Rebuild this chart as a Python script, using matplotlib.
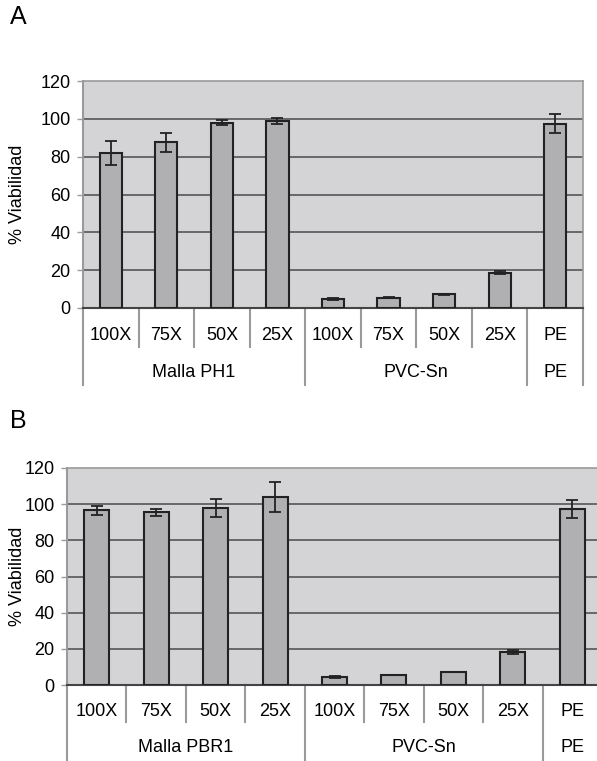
import numpy as np
import matplotlib
matplotlib.use("Agg")
import matplotlib.pyplot as plt
import matplotlib.transforms as mtransforms

plt.rcParams['font.family'] = ['Liberation Sans', 'DejaVu Sans']

tick_labels = ["100X", "75X", "50X", "25X", "100X", "75X", "50X", "25X", "PE"]

groups_a = ["Malla PH1", "PVC-Sn", "PE"]
values_a = [82, 87.5, 98, 98.8, 4.8, 5.5, 7.3, 18.7, 97.3]
errors_a = [6.5, 4.8, 1.5, 1.6, 0.6, 0.2, 0.2, 0.8, 5.0]

groups_b = ["Malla PBR1", "PVC-Sn", "PE"]
values_b = [96.6, 95.6, 97.9, 104.0, 4.6, 5.5, 7.2, 18.4, 97.4]
errors_b = [2.5, 2.0, 5.0, 8.5, 0.5, 0.2, 0.2, 1.0, 5.0]

group_spans = [(0, 4), (4, 8), (8, 9)]

W, H = 597, 761
BG = "#d4d4d6"
BAR = "#b0b0b2"
GRID = "#555555"
LIGHT = "#9a9a9a"


def panel(fig, rect_px, values, errors, groups, inner_bot, outer_bot, tick_y, group_y,
          ylabel_x, bar_w):
    left, top, right, bottom = rect_px
    ax = fig.add_axes([left / W, 1 - bottom / H, (right - left) / W, (bottom - top) / H])
    ax.set_facecolor(BG)
    x = np.arange(len(values))
    ax.bar(x, values, width=bar_w, color=BAR, edgecolor="#222222", linewidth=1.5, zorder=3)
    ax.errorbar(x, values, yerr=errors, fmt="none", ecolor="#222222",
                elinewidth=1.3, capsize=4, capthick=1.3, zorder=4)
    ax.set_xlim(-0.5, len(values) - 0.5)
    ax.set_ylim(0, 120)
    ax.set_yticks(range(0, 121, 20))
    ax.tick_params(axis="y", labelsize=13, length=4, width=1, color=LIGHT, pad=5)
    ax.set_xticks([])
    for v in range(20, 101, 20):
        ax.axhline(v, color=GRID, linewidth=1.2, zorder=1)
    for s in ["top", "right"]:
        ax.spines[s].set_color(LIGHT)
        ax.spines[s].set_linewidth(1.2)
    ax.spines["left"].set_color(LIGHT)
    ax.spines["left"].set_linewidth(1.5)
    ax.spines["bottom"].set_color("#444444")
    ax.spines["bottom"].set_linewidth(1.5)
    ax.set_ylabel("% Viabilidad", fontsize=13, va="center")
    # label centre given in figure pixels
    ax.yaxis.set_label_coords((ylabel_x - left) / (right - left), 0.5)

    trans = mtransforms.blended_transform_factory(ax.transData, ax.transAxes)
    group_edges = [s for s, e in group_spans] + [group_spans[-1][1]]
    for i in range(len(values) + 1):
        xb = i - 0.5
        yb = outer_bot if i in group_edges else inner_bot
        ax.plot([xb, xb], [0, yb], color=LIGHT, linewidth=1.5,
                transform=trans, clip_on=False)
    for i, lab in enumerate(tick_labels):
        ax.text(i, tick_y, lab, transform=trans, ha="center", va="center", fontsize=13)
    for (s, e), g in zip(group_spans, groups):
        ax.text((s + e - 1) / 2, group_y, g, transform=trans, ha="center",
                va="center", fontsize=13)
    return ax


fig = plt.figure(figsize=(W / 100, H / 100), dpi=100)

panel(fig, (83, 81, 583, 308), values_a, errors_a, groups_a,
      -0.172, -0.339, -0.119, -0.286, 18, 0.4)
panel(fig, (67, 468, 602, 685), values_b, errors_b, groups_b,
      -0.169, -0.346, -0.123, -0.29, 18, 0.42)

fig.text(10 / W, 1 - 17 / H, "A", fontsize=18, ha="left", va="center")
fig.text(10 / W, 1 - 421 / H, "B", fontsize=18, ha="left", va="center")

fig.savefig("out.png", dpi=100)
